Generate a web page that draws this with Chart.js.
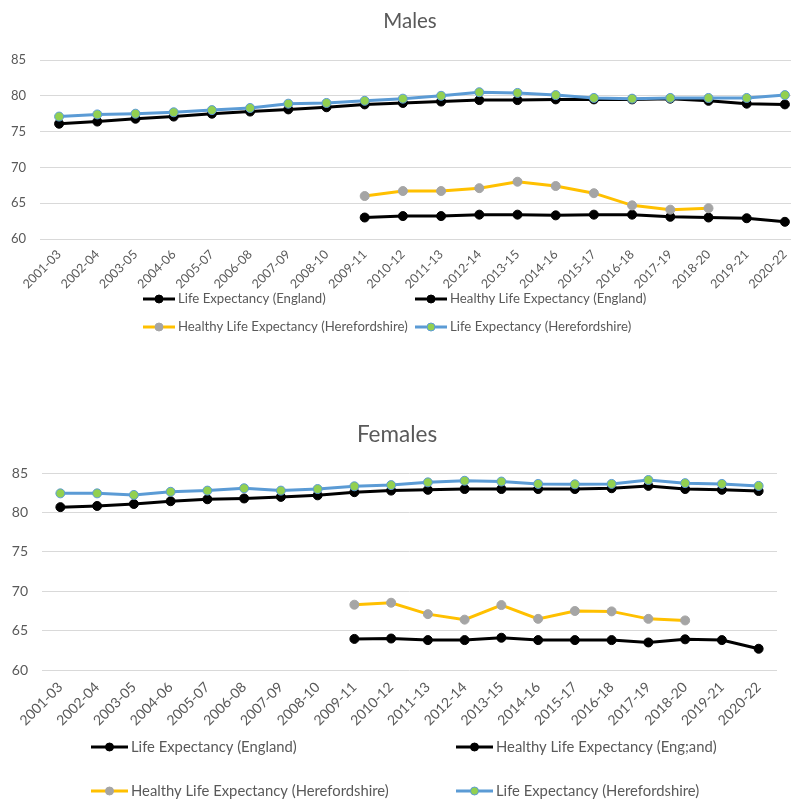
<!DOCTYPE html>
<html><head><meta charset="utf-8">
<script src="https://cdn.jsdelivr.net/npm/chart.js@4/dist/chart.umd.min.js"></script>
<style>
html,body{margin:0;padding:0;background:#fff;overflow:hidden;width:791px;height:800px;}
#w1{position:absolute;left:0;top:0;width:820px;height:345px;}
#w2{position:absolute;left:0;top:405px;width:791px;height:395px;}
</style></head><body>
<div id="w1"><canvas id="c1"></canvas></div>
<div id="w2"><canvas id="c2"></canvas></div>
<script>
const periods = ['2001-03','2002-04','2003-05','2004-06','2005-07','2006-08','2007-09','2008-10','2009-11','2010-12','2011-13','2012-14','2013-15','2014-16','2015-17','2016-18','2017-19','2018-20','2019-21','2020-22'];
const yTicks = [60, 65, 70, 75, 80, 85];

// Males
const maleLifeExpEngland = [76.1, 76.4, 76.8, 77.1, 77.5, 77.8, 78.1, 78.4, 78.8, 79.0, 79.2, 79.4, 79.4, 79.5, 79.5, 79.5, 79.6, 79.3, 78.9, 78.8];
const maleHealthyLifeExpEngland = [null, null, null, null, null, null, null, null, 63.0, 63.2, 63.2, 63.4, 63.4, 63.3, 63.4, 63.4, 63.1, 63.0, 62.9, 62.4];
const maleHealthyLifeExpHereford = [null, null, null, null, null, null, null, null, 66.0, 66.7, 66.7, 67.1, 68.0, 67.4, 66.4, 64.7, 64.1, 64.3, null, null];
const maleLifeExpHereford = [77.1, 77.4, 77.5, 77.7, 78.0, 78.3, 78.9, 79.0, 79.3, 79.6, 80.0, 80.5, 80.4, 80.1, 79.7, 79.6, 79.7, 79.7, 79.7, 80.1];

// Females
const femaleLifeExpEngland = [80.7, 80.85, 81.1, 81.45, 81.7, 81.8, 82.0, 82.2, 82.6, 82.8, 82.9, 83.0, 83.0, 83.0, 83.0, 83.1, 83.4, 83.0, 82.9, 82.75];
const femaleHealthyLifeExpEngland = [null, null, null, null, null, null, null, null, 63.95, 64.0, 63.8, 63.8, 64.1, 63.8, 63.8, 63.8, 63.5, 63.9, 63.8, 62.7];
const femaleHealthyLifeExpHereford = [null, null, null, null, null, null, null, null, 68.3, 68.55, 67.1, 66.4, 68.25, 66.5, 67.5, 67.45, 66.5, 66.3, null, null];
const femaleLifeExpHereford = [82.45, 82.45, 82.25, 82.65, 82.8, 83.1, 82.8, 83.0, 83.35, 83.5, 83.85, 84.05, 83.95, 83.65, 83.6, 83.65, 84.15, 83.75, 83.65, 83.4];

const maleLabels = ['Life Expectancy (England)', 'Healthy Life Expectancy (England)', 'Healthy Life Expectancy (Herefordshire)', 'Life Expectancy (Herefordshire)'];
const femaleLabels = ['Life Expectancy (England)', 'Healthy Life Expectancy (Eng;and)', 'Healthy Life Expectancy (Herefordshire)', 'Life Expectancy (Herefordshire)'];

const FONT = 'Lato, "Open Sans", sans-serif';
const GREY = '#595959';

const gridLegend = {
  id: 'gridLegend',
  afterDraw(chart, args, opts) {
    if (!opts || !opts.items) return;
    const ctx = chart.ctx;
    ctx.save();
    opts.items.forEach(it => {
      const ds = chart.data.datasets[it.index];
      const x = it.x, y = it.y, L = opts.lineLen;
      ctx.strokeStyle = ds.borderColor; ctx.lineWidth = 3; ctx.lineCap = 'butt';
      ctx.beginPath(); ctx.moveTo(x, y); ctx.lineTo(x + L, y); ctx.stroke();
      ctx.fillStyle = ds.pointBackgroundColor; ctx.strokeStyle = ds.pointBorderColor; ctx.lineWidth = 1;
      ctx.beginPath(); ctx.arc(x + L / 2, y, opts.r, 0, Math.PI * 2); ctx.fill(); ctx.stroke();
      ctx.fillStyle = GREY; ctx.font = opts.font; ctx.textBaseline = 'middle'; ctx.textAlign = 'left';
      ctx.fillText(ds.label, x + L + opts.gap, y);
    });
    ctx.restore();
  }
};

function makeDatasets(labels, le, hle, hleH, leH) {
  return [
    {label: labels[0], data: le, borderColor: '#000000', backgroundColor: '#000000', pointBackgroundColor: '#000000', pointBorderColor: '#000000', order: 3},
    {label: labels[1], data: hle, borderColor: '#000000', backgroundColor: '#000000', pointBackgroundColor: '#000000', pointBorderColor: '#000000', order: 2},
    {label: labels[2], data: hleH, borderColor: '#FFC000', backgroundColor: '#FFC000', pointBackgroundColor: '#A5A5A5', pointBorderColor: '#A5A5A5', order: 1},
    {label: labels[3], data: leH, borderColor: '#5B9BD5', backgroundColor: '#5B9BD5', pointBackgroundColor: '#92D050', pointBorderColor: '#5B9BD5', order: 0}
  ].map(d => Object.assign(d, {borderWidth: 3, pointRadius: 4.5, pointHoverRadius: 4.5, pointBorderWidth: 1, tension: 0, spanGaps: false}));
}

function noLabelClip(s) { s._computeLabelArea = function () { return undefined; }; }

function makeOptions(cfg) {
  return {
    responsive: true, maintainAspectRatio: false, animation: false,
    layout: {padding: {top: 0, left: cfg.padLeft, right: cfg.padRight, bottom: cfg.padBottom}},
    plugins: {
      legend: {display: false}, tooltip: {enabled: false},
      title: {display: true, text: cfg.title, color: GREY, font: {family: FONT, size: cfg.titleSize, weight: 'normal'}, padding: {top: cfg.titleTop, bottom: cfg.titleBottom}},
      gridLegend: cfg.legend
    },
    scales: {
      x: {
        type: 'category', offset: true,
        grid: {display: false}, border: {display: false},
        ticks: {autoSkip: false, maxRotation: 45, minRotation: 45, color: GREY, font: {family: FONT, size: cfg.xFont}, padding: cfg.xPad},
        afterFit(s) { s.height = cfg.xHeight; noLabelClip(s); }
      },
      y: {
        min: yTicks[0], max: yTicks[yTicks.length - 1],
        afterBuildTicks(s) { s.ticks = yTicks.map(v => ({value: v})); },
        grid: {color: '#D9D9D9', lineWidth: 1, drawTicks: false}, border: {display: false},
        ticks: {color: GREY, font: {family: FONT, size: cfg.yFont}, padding: 14},
        afterFit(s) { s.width = cfg.yWidth; noLabelClip(s); }
      }
    }
  };
}

new Chart(document.getElementById('c1'), {
  type: 'line',
  data: {labels: periods, datasets: makeDatasets(maleLabels, maleLifeExpEngland, maleHealthyLifeExpEngland, maleHealthyLifeExpHereford, maleLifeExpHereford)},
  options: makeOptions({title: 'Males', titleSize: 20.5, padLeft: 16, padRight: 16, padBottom: 60, titleTop: 9, titleBottom: 26.4, xHeight: 46, yWidth: 24, xFont: 12.5, xPad: 0, yFont: 13,
    legend: {lineLen: 32, r: 4, gap: 3, font: '13.2px ' + FONT, items: [
      {index: 0, x: 143, y: 299}, {index: 1, x: 415, y: 299},
      {index: 2, x: 143, y: 327}, {index: 3, x: 415, y: 327}]}}),
  plugins: [gridLegend]
});

new Chart(document.getElementById('c2'), {
  type: 'line',
  data: {labels: periods, datasets: makeDatasets(femaleLabels, femaleLifeExpEngland, femaleHealthyLifeExpEngland, femaleHealthyLifeExpHereford, femaleLifeExpHereford)},
  options: makeOptions({title: 'Females', titleSize: 22.5, padLeft: 17, padRight: 14, padBottom: 80, titleTop: 16.5, titleBottom: 24.8, xHeight: 50, yWidth: 25, xFont: 14, xPad: 1, yFont: 14,
    legend: {lineLen: 37, r: 4, gap: 3, font: '14.8px ' + FONT, items: [
      {index: 0, x: 91, y: 342}, {index: 1, x: 456, y: 342},
      {index: 2, x: 91, y: 386}, {index: 3, x: 456, y: 386}]}}),
  plugins: [gridLegend]
});
</script>
</body></html>
